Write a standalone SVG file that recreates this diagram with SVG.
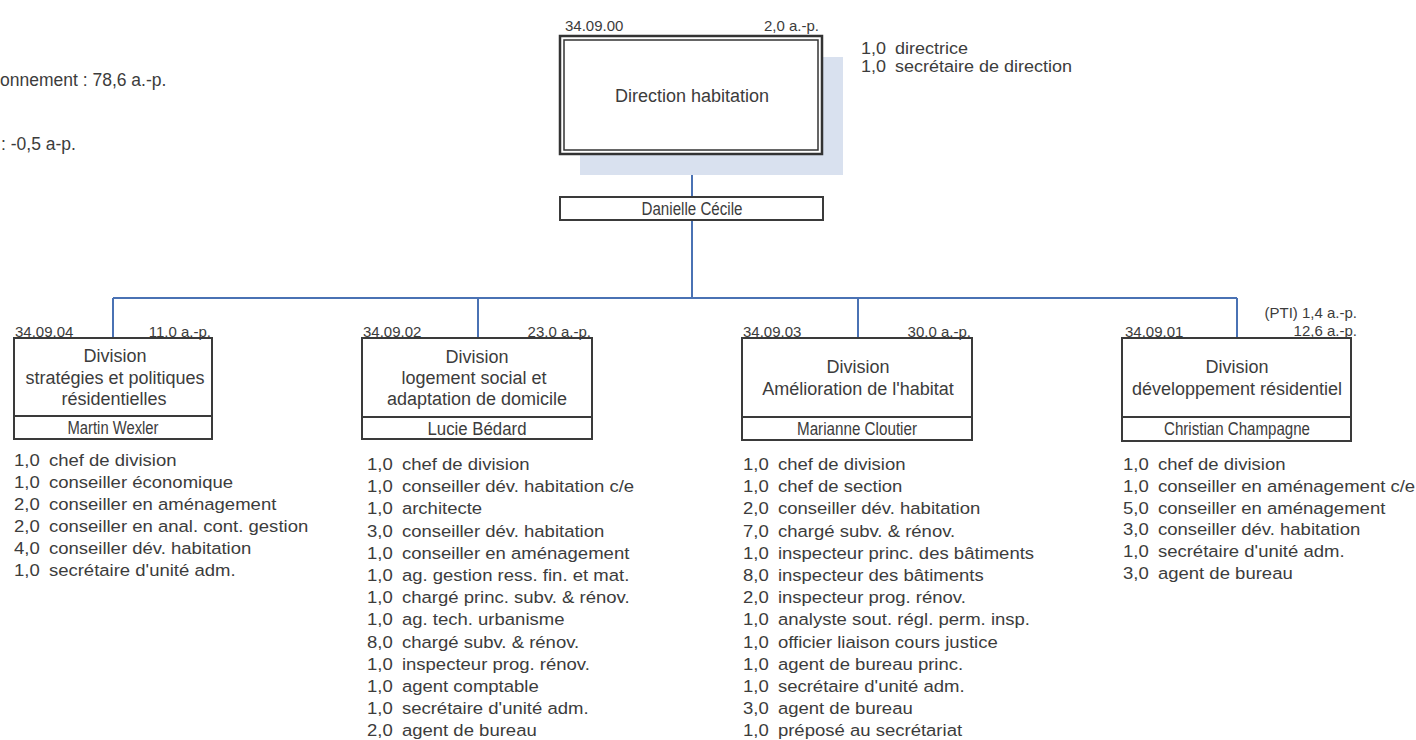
<svg xmlns="http://www.w3.org/2000/svg" width="1416" height="740" viewBox="0 0 1416 740">
<style>
text{font-family:"Liberation Sans",Arial,Helvetica,sans-serif;fill:#3c3c3c}
.lbl{font-size:15px}
.end{text-anchor:end}
.ttl{font-size:18px;text-anchor:middle}
.nm{font-size:17.5px;text-anchor:middle}
.li{font-size:17px}
.note{font-size:17.5px}
.box{fill:#fff;stroke:#3a3a3a;stroke-width:2}
.conn{stroke:#4a72b4;stroke-width:2;fill:none}
</style>
<rect width="1416" height="740" fill="#fff"/>

<g id="notes">
<text class="note" x="0" y="86">onnement : 78,6 a.-p.</text>
<text class="note" x="1" y="150">: -0,5 a-p.</text>
</g>

<g id="connectors">
<path class="conn" d="M692 155V197M692 220V298M113 298H1237M113 298V338M478 298V338M858 298V338M1237 298V338"/>
</g>

<g id="direction">
<rect x="580" y="57" width="263" height="118" fill="#d9e1ef"/>
<rect x="560" y="36" width="262" height="118" fill="#fff" stroke="#333" stroke-width="2.5"/>
<rect x="564" y="40" width="254" height="110" fill="none" stroke="#333" stroke-width="1.5"/>
<text class="lbl" x="565" y="31">34.09.00</text>
<text class="lbl end" x="819" y="31">2,0 a.-p.</text>
<text class="ttl" x="692" y="102">Direction habitation</text>
<g transform="translate(861,54) scale(1.06,1)">
<text class="li" x="0" y="0">1,0</text><text class="li" x="32" y="0">directrice</text>
<text class="li" x="0" y="18.5">1,0</text><text class="li" x="32" y="18.5">secrétaire de direction</text>
</g>
</g>

<g id="danielle">
<rect class="box" x="560" y="197" width="263" height="23"/>
<text class="nm" x="692" y="215" textLength="101" lengthAdjust="spacingAndGlyphs">Danielle Cécile</text>
</g>

<g id="div-340904">
<rect class="box" x="14" y="338" width="198" height="101"/>
<line x1="14" y1="416" x2="212" y2="416" stroke="#3a3a3a" stroke-width="2"/>
<text class="lbl" x="15" y="337">34.09.04</text>
<text class="lbl end" x="211" y="337">11,0 a.-p.</text>
<text class="ttl" x="115" y="362">Division</text>
<text class="ttl" x="115" y="384">stratégies et politiques</text>
<text class="ttl" x="114" y="405">résidentielles</text>
<text class="nm" x="113" y="434" textLength="91" lengthAdjust="spacingAndGlyphs">Martin Wexler</text>
<g transform="translate(14,466) scale(1.09,1)">
<text class="li" x="0" y="0">1,0</text><text class="li" x="32" y="0">chef de division</text>
<text class="li" x="0" y="22">1,0</text><text class="li" x="32" y="22">conseiller économique</text>
<text class="li" x="0" y="44">2,0</text><text class="li" x="32" y="44">conseiller en aménagement</text>
<text class="li" x="0" y="66">2,0</text><text class="li" x="32" y="66">conseiller en anal. cont. gestion</text>
<text class="li" x="0" y="88">4,0</text><text class="li" x="32" y="88">conseiller dév. habitation</text>
<text class="li" x="0" y="110">1,0</text><text class="li" x="32" y="110">secrétaire d'unité adm.</text>
</g>
</g>

<g id="div-340902">
<rect class="box" x="362" y="338" width="230" height="101"/>
<line x1="362" y1="417" x2="592" y2="417" stroke="#3a3a3a" stroke-width="2"/>
<text class="lbl" x="363" y="337">34.09.02</text>
<text class="lbl end" x="591" y="337">23,0 a.-p.</text>
<text class="ttl" x="477" y="363">Division</text>
<text class="ttl" x="474" y="384">logement social et</text>
<text class="ttl" x="477" y="405">adaptation de domicile</text>
<text class="nm" x="477" y="435" textLength="99" lengthAdjust="spacingAndGlyphs">Lucie Bédard</text>
<g transform="translate(367,470) scale(1.09,1)">
<text class="li" x="0" y="0">1,0</text><text class="li" x="32" y="0">chef de division</text>
<text class="li" x="0" y="22.2">1,0</text><text class="li" x="32" y="22.2">conseiller dév. habitation c/e</text>
<text class="li" x="0" y="44.4">1,0</text><text class="li" x="32" y="44.4">architecte</text>
<text class="li" x="0" y="66.6">3,0</text><text class="li" x="32" y="66.6">conseiller dév. habitation</text>
<text class="li" x="0" y="88.8">1,0</text><text class="li" x="32" y="88.8">conseiller en aménagement</text>
<text class="li" x="0" y="111">1,0</text><text class="li" x="32" y="111">ag. gestion ress. fin. et mat.</text>
<text class="li" x="0" y="133.2">1,0</text><text class="li" x="32" y="133.2">chargé princ. subv. &amp; rénov.</text>
<text class="li" x="0" y="155.4">1,0</text><text class="li" x="32" y="155.4">ag. tech. urbanisme</text>
<text class="li" x="0" y="177.6">8,0</text><text class="li" x="32" y="177.6">chargé subv. &amp; rénov.</text>
<text class="li" x="0" y="199.8">1,0</text><text class="li" x="32" y="199.8">inspecteur prog. rénov.</text>
<text class="li" x="0" y="222">1,0</text><text class="li" x="32" y="222">agent comptable</text>
<text class="li" x="0" y="244.2">1,0</text><text class="li" x="32" y="244.2">secrétaire d'unité adm.</text>
<text class="li" x="0" y="266.4">2,0</text><text class="li" x="32" y="266.4">agent de bureau</text>
</g>
</g>

<g id="div-340903">
<rect class="box" x="742" y="338" width="230" height="102"/>
<line x1="742" y1="417" x2="972" y2="417" stroke="#3a3a3a" stroke-width="2"/>
<text class="lbl" x="743" y="337">34.09.03</text>
<text class="lbl end" x="971" y="337">30,0 a.-p.</text>
<text class="ttl" x="858" y="373">Division</text>
<text class="ttl" x="858" y="395">Amélioration de l'habitat</text>
<text class="nm" x="857" y="435" textLength="120" lengthAdjust="spacingAndGlyphs">Marianne Cloutier</text>
<g transform="translate(743,470) scale(1.09,1)">
<text class="li" x="0" y="0">1,0</text><text class="li" x="32" y="0">chef de division</text>
<text class="li" x="0" y="22.2">1,0</text><text class="li" x="32" y="22.2">chef de section</text>
<text class="li" x="0" y="44.4">2,0</text><text class="li" x="32" y="44.4">conseiller dév. habitation</text>
<text class="li" x="0" y="66.6">7,0</text><text class="li" x="32" y="66.6">chargé subv. &amp; rénov.</text>
<text class="li" x="0" y="88.8">1,0</text><text class="li" x="32" y="88.8">inspecteur princ. des bâtiments</text>
<text class="li" x="0" y="111">8,0</text><text class="li" x="32" y="111">inspecteur des bâtiments</text>
<text class="li" x="0" y="133.2">2,0</text><text class="li" x="32" y="133.2">inspecteur prog. rénov.</text>
<text class="li" x="0" y="155.4">1,0</text><text class="li" x="32" y="155.4">analyste sout. régl. perm. insp.</text>
<text class="li" x="0" y="177.6">1,0</text><text class="li" x="32" y="177.6">officier liaison cours justice</text>
<text class="li" x="0" y="199.8">1,0</text><text class="li" x="32" y="199.8">agent de bureau princ.</text>
<text class="li" x="0" y="222">1,0</text><text class="li" x="32" y="222">secrétaire d'unité adm.</text>
<text class="li" x="0" y="244.2">3,0</text><text class="li" x="32" y="244.2">agent de bureau</text>
<text class="li" x="0" y="266.4">1,0</text><text class="li" x="32" y="266.4">préposé au secrétariat</text>
</g>
</g>

<g id="div-340901">
<rect class="box" x="1122" y="338" width="229" height="103"/>
<line x1="1122" y1="417" x2="1351" y2="417" stroke="#3a3a3a" stroke-width="2"/>
<text class="lbl" x="1125" y="337">34.09.01</text>
<text class="lbl end" x="1357" y="318">(PTI) 1,4 a.-p.</text>
<text class="lbl end" x="1357" y="336">12,6 a.-p.</text>
<text class="ttl" x="1237" y="373">Division</text>
<text class="ttl" x="1237" y="395">développement résidentiel</text>
<text class="nm" x="1237" y="435" textLength="146" lengthAdjust="spacingAndGlyphs">Christian Champagne</text>
<g transform="translate(1123,470) scale(1.09,1)">
<text class="li" x="0" y="0">1,0</text><text class="li" x="32" y="0">chef de division</text>
<text class="li" x="0" y="21.8">1,0</text><text class="li" x="32" y="21.8">conseiller en aménagement c/e</text>
<text class="li" x="0" y="43.6">5,0</text><text class="li" x="32" y="43.6">conseiller en aménagement</text>
<text class="li" x="0" y="65.4">3,0</text><text class="li" x="32" y="65.4">conseiller dév. habitation</text>
<text class="li" x="0" y="87.2">1,0</text><text class="li" x="32" y="87.2">secrétaire d'unité adm.</text>
<text class="li" x="0" y="109">3,0</text><text class="li" x="32" y="109">agent de bureau</text>
</g>
</g>
</svg>
